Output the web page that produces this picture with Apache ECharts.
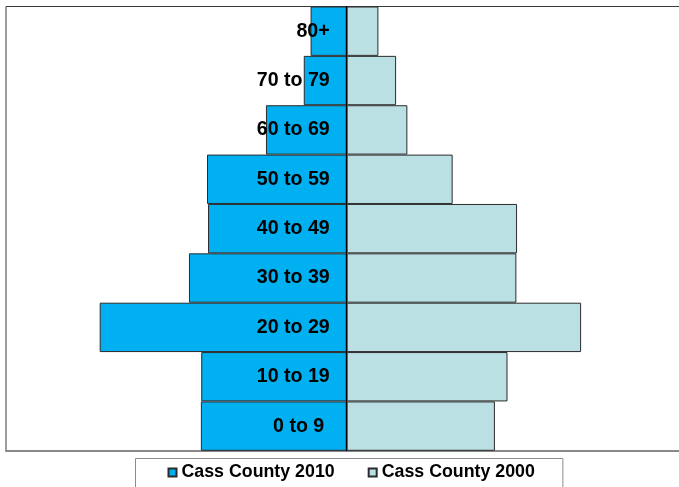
<!DOCTYPE html>
<html>
<head>
<meta charset="utf-8">
<script src="https://cdn.jsdelivr.net/npm/echarts@6/dist/echarts.min.js"></script>
<style>html,body{margin:0;padding:0;background:#fff;}#c{width:679px;height:487px;}</style>
</head>
<body>
<div id="c"></div>
<script>
const categories = ['0 to 9', '10 to 19', '20 to 29', '30 to 39', '40 to 49', '50 to 59', '60 to 69', '70 to 79', '80+'];
const cass2010 = [428, 427, 725, 463, 407, 410, 237, 126, 106];
const cass2000 = [435, 472, 688, 498, 500, 311, 178, 145, 93];
const seriesNames = ['Cass County 2010', 'Cass County 2000'];
const axisMax = 1000;
const gridWidth = 681.4;

const chart = echarts.init(document.getElementById('c'), null, {renderer: 'canvas'});
chart.setOption({
  animation: false,
  backgroundColor: '#ffffff',
  textStyle: {fontFamily: '"Liberation Sans", Arial, sans-serif'},
  grid: {
    left: 6, top: 6.5, width: gridWidth, height: 444.3,
    containLabel: false, outerBoundsMode: 'none',
    show: true, borderColor: '#3a3a3a', borderWidth: 1, backgroundColor: 'transparent'
  },
  legend: {
    data: seriesNames,
    left: 135.5, top: 458.5,
    padding: [5, 28, 20, 32],
    itemGap: 33, itemWidth: 8, itemHeight: 8,
    icon: 'rect',
    borderColor: '#8c8c8c', borderWidth: 1,
    textStyle: {fontSize: 17.8, fontWeight: 'bold', color: '#000', fontFamily: '"Liberation Sans", Arial, sans-serif'}
  },
  xAxis: {
    type: 'value', min: -axisMax, max: axisMax,
    axisLabel: {show: false}, axisTick: {show: false}, splitLine: {show: false},
    axisLine: {show: true, lineStyle: {color: '#888888', width: 2}}
  },
  yAxis: {
    type: 'category', data: categories, z: 10,
    position: 'left', offset: -gridWidth / 2,
    axisTick: {show: false},
    axisLine: {show: true, onZero: false, lineStyle: {color: '#000', width: 1}},
    axisLabel: {
      margin: 17, fontSize: 19.6, fontWeight: 'bold', color: '#000',
      fontFamily: '"Liberation Sans", Arial, sans-serif',
      formatter: v => v === '0 to 9' ? v + '\u00a0' : v
    }
  },
  series: [
    {
      name: seriesNames[0], type: 'bar', stack: 'p', barCategoryGap: '0%',
      data: cass2010.map(v => -v),
      itemStyle: {color: '#00B0F0', borderColor: '#2b2b2b', borderWidth: 1}
    },
    {
      name: seriesNames[1], type: 'bar', stack: 'p', barCategoryGap: '0%',
      data: cass2000,
      itemStyle: {color: '#BBE0E3', borderColor: '#2b2b2b', borderWidth: 1}
    }
  ]
});
</script>
</body>
</html>
